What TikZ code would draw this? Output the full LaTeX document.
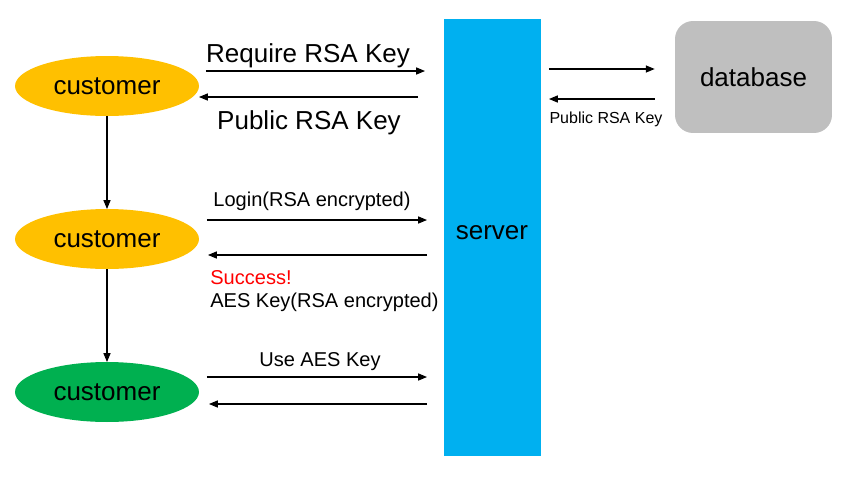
\documentclass[tikz,border=0pt]{standalone}
\usepackage{fontspec}
\setmainfont{Liberation Sans}
\usepackage{tikz}
\usetikzlibrary{calc, positioning}
\usetikzlibrary{shapes, arrows.meta}
\definecolor{custyellow}{HTML}{FFC000}
\definecolor{custgreen}{HTML}{00B050}
\definecolor{serverblue}{HTML}{00B0F0}
\definecolor{dbgray}{HTML}{BFBFBF}
\tikzset{
    bigtxt/.style ={font=\fontsize{14.8}{17}\selectfont, inner sep=0pt},% main labels
    midtxt/.style ={font=\fontsize{11.4}{13}\selectfont, inner sep=0pt},
    smalltxt/.style ={font=\fontsize{9.1}{11}\selectfont, inner sep=0pt},
    cust/.style ={ellipse, bigtxt, minimum width=3.68cm, minimum height=1.2cm, outer sep=0pt},
    arr/.style ={-{Triangle[length=5pt,width=4pt]}, line width=0.6pt},
}

\begin{document}
\begin{tikzpicture}[x=0.02cm, y=-0.02cm]
            \useasboundingbox (0,0) rectangle (843,481);
            \node[cust, fill=custyellow] (c1) at (107,86) {customer};
            \node[cust, fill=custyellow] (c2) at (107,239) {customer};
            \node[cust, fill=custgreen] (c3) at (107,392) {customer};
            \node[fill=serverblue, minimum width=1.94cm, minimum height=8.74cm, outer sep=0pt] (server) at (492.5,237.5) {};
            \node[bigtxt] at (492,233) {server};
            \node[fill=dbgray, rounded corners=0.36cm, minimum width=3.14cm, minimum height=2.24cm, bigtxt] (db) at (753.5,77) {database};
            % customer to customer
            \path[arr] (c1) edge (c2);
            \path[arr] (c2) edge (c3);
            % first customer and server
            \draw[arr] ($(c1.east)+(7,-15)$) -- ($(c1.east -| server.west)+(-19,-15)$);
            \draw[arr] ($(c1.east -| server.west)+(-26,11)$) -- ($(c1.east)+(0,11)$);
            \node[bigtxt] at (308,56) {Require RSA Key};
            \node[bigtxt] at (309,123) {Public RSA Key};
            % login
            \draw[arr] ($(c2.east)+(8,-19)$) -- ($(c2.east -| server.west)+(-17,-19)$);
            \draw[arr] ($(c2.east -| server.west)+(-17,16)$) -- ($(c2.east)+(9,16)$);
            \node[midtxt] at (312,201) {Login(RSA encrypted)};
            \node[midtxt, anchor=west, text=red] at (210,278) {Success!};
            \node[midtxt, anchor=west] at (210,302) {AES Key(RSA encrypted)};
            % AES key
            \draw[arr] ($(c3.east)+(8,-15)$) -- ($(c3.east -| server.west)+(-17,-15)$);
            \draw[arr] ($(c3.east -| server.west)+(-17,12)$) -- ($(c3.east)+(10,12)$);
            \node[midtxt] at (320,362) {Use AES Key};
            % server and database
            \draw[arr] ($(server.east |- db.west)+(8,-8)$) -- ($(db.west)+(-20,-8)$);
            \draw[arr] ($(db.west)+(-20,22)$) -- ($(server.east |- db.west)+(8,22)$);
            \node[smalltxt] at (606,119) {Public RSA Key};
        \end{tikzpicture}
\end{document}
